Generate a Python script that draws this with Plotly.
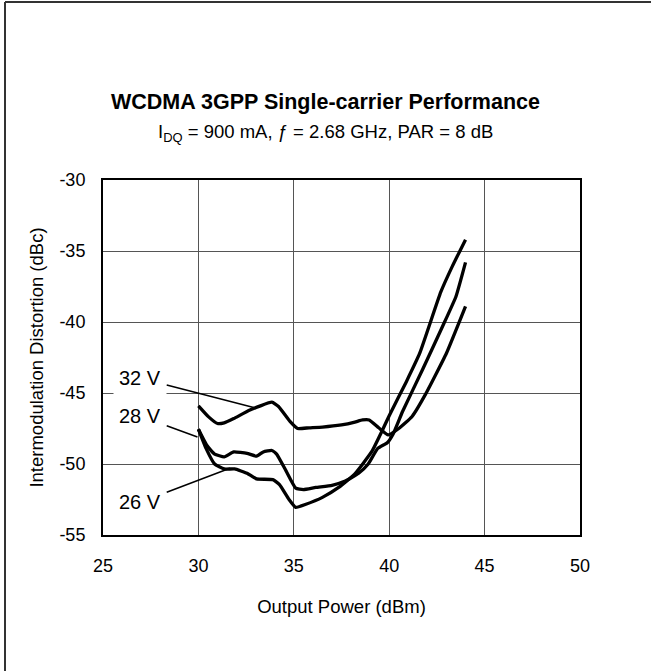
import plotly.graph_objects as go

# ---- data ----
x_32v = [30, 30.55, 31.0, 31.35, 31.85, 32.7, 33.85, 34.2, 34.8, 35.2, 35.8, 36.5, 37.5, 38.2,
         38.6, 38.95, 39.45, 39.95, 40.5, 41.2, 41.9, 43.0, 44.0]
y_32v = [-45.9, -46.7, -47.15, -47.1, -46.8, -46.2, -45.65, -45.95, -47.0, -47.5, -47.45, -47.4,
         -47.25, -47.05, -46.9, -46.9, -47.45, -47.95, -47.5, -46.65, -45.1, -42.2, -38.9]

x_28v = [30, 30.45, 30.85, 31.35, 31.85, 32.55, 33.05, 33.4, 33.85, 34.1, 34.6, 35.1, 35.5, 36.15,
         37.0, 37.7, 38.4, 38.9, 39.4, 39.9, 40.2, 40.7, 41.75, 42.8, 43.5, 44.0]
y_28v = [-47.55, -48.7, -49.3, -49.5, -49.15, -49.25, -49.45, -49.15, -49.05, -49.3, -50.5, -51.7,
         -51.8, -51.65, -51.5, -51.2, -50.65, -50.0, -48.9, -48.5, -47.9, -46.3, -43.35, -40.3,
         -38.2, -35.8]

x_26v = [30, 30.4, 30.85, 31.35, 31.9, 32.55, 33.05, 33.9, 34.25, 34.75, 35.1, 35.6, 36.5, 37.35,
         38.2, 39.1, 39.6, 40.0, 40.9, 41.6, 42.7, 43.3, 44.0]
y_26v = [-47.55, -48.9, -50.0, -50.35, -50.35, -50.65, -51.05, -51.1, -51.45, -52.5, -53.05, -52.85,
         -52.35, -51.65, -50.7, -49.1, -47.75, -46.6, -44.2, -42.2, -37.9, -36.1, -34.2]

series_names = ["32 V", "28 V", "26 V"]
# label anchor (text centre) and leader target on the curve, in data units
label_pos = [(26.95, -43.95), (26.95, -46.62), (26.95, -52.7)]
leader_tip = [(33.0, -46.05), (29.95, -48.1), (31.65, -50.3)]

x_ticks = [25, 30, 35, 40, 45, 50]
y_ticks = [-55, -50, -45, -40, -35, -30]

title_text = "<b>WCDMA 3GPP Single-carrier Performance</b>"
subtitle_text = "I<sub>DQ</sub> = 900 mA, ƒ = 2.68 GHz, PAR = 8 dB"
x_title = "Output Power (dBm)"
y_title = "Intermodulation Distortion (dBc)"

FONT = "Arial, Liberation Sans, sans-serif"
W, H = 651, 671
L, R, T, B = 103, 580, 180, 535

fig = go.Figure()
for xs, ys, name in [(x_32v, y_32v, series_names[0]),
                     (x_28v, y_28v, series_names[1]),
                     (x_26v, y_26v, series_names[2])]:
    fig.add_trace(go.Scatter(x=xs, y=ys, mode="lines", name=name,
                             line=dict(color="black", width=3.3, shape="spline", smoothing=0.4),
                             showlegend=False, hoverinfo="skip"))

annotations = []
for name, (lx, ly), (tx, ty) in zip(series_names, label_pos, leader_tip):
    annotations.append(dict(x=tx, y=ty, xref="x", yref="y", ax=lx, ay=ly, axref="x", ayref="y",
                            text=name, showarrow=True, arrowhead=0, arrowwidth=1.5,
                            arrowcolor="black", bgcolor="white", borderpad=5,
                            font=dict(family=FONT, size=20, color="black")))

def px2paper_x(px):
    return (px - L) / (R - L)

def px2paper_y(py):
    return (B - py) / (B - T)

annotations.append(dict(x=px2paper_x(325.5), y=px2paper_y(102), xref="paper", yref="paper",
                        text=title_text, showarrow=False, xanchor="center", yanchor="middle",
                        font=dict(family=FONT, size=21.5, color="black")))
annotations.append(dict(x=px2paper_x(325.5), y=px2paper_y(133), xref="paper", yref="paper",
                        text=subtitle_text, showarrow=False, xanchor="center", yanchor="middle",
                        font=dict(family=FONT, size=18.5, color="black")))

fig.update_layout(
    width=W, height=H,
    margin=dict(l=L, r=W - R, t=T, b=H - B, pad=0),
    paper_bgcolor="white", plot_bgcolor="white",
    font=dict(family=FONT, size=18, color="black"),
    annotations=annotations,
    shapes=[
        dict(type="line", xref="paper", yref="paper",
             x0=px2paper_x(5), x1=px2paper_x(5), y0=px2paper_y(2), y1=px2paper_y(H + 5),
             line=dict(color="#333", width=2)),
        dict(type="line", xref="paper", yref="paper",
             x0=px2paper_x(5), x1=px2paper_x(W + 5), y0=px2paper_y(2), y1=px2paper_y(2),
             line=dict(color="#333", width=2)),
    ],
)

fig.update_xaxes(range=[25, 50], tickvals=x_ticks, ticktext=[str(v) for v in x_ticks],
                 showgrid=True, gridcolor="#555", gridwidth=1, zeroline=False,
                 showline=True, linecolor="black", linewidth=2, mirror=True,
                 ticks="", ticklabelstandoff=13,
                 tickfont=dict(family=FONT, size=18, color="black"),
                 title=dict(text=x_title, standoff=25, font=dict(family=FONT, size=18.5, color="black")))
fig.update_yaxes(range=[-55, -30], tickvals=y_ticks, ticktext=[str(v) for v in y_ticks],
                 showgrid=True, gridcolor="#555", gridwidth=1, zeroline=False,
                 showline=True, linecolor="black", linewidth=2, mirror=True,
                 ticks="", ticklabelstandoff=12,
                 tickfont=dict(family=FONT, size=18, color="black"),
                 title=dict(text=y_title, standoff=11, font=dict(family=FONT, size=18.5, color="black")))

fig.write_html("out.html", config={"displayModeBar": False},
               post_script="document.body.style.margin='0';document.body.style.padding='0';")
